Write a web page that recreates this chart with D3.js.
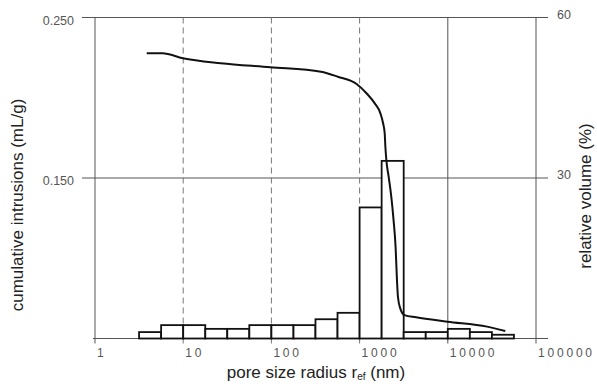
<!DOCTYPE html>
<html>
<head>
<meta charset="utf-8">
<script src="https://cdn.jsdelivr.net/npm/d3@7"></script>
<style>
  body { margin: 0; background: #fff; }
  svg text { font-family: "Liberation Sans", Arial, sans-serif; }
</style>
</head>
<body>
<div id="chart"></div>
<script>
// histogram: relative volume (%) per quarter-decade bin
var binEdges = [3.16, 5.62, 10, 17.8, 31.6, 56.2, 100, 178, 316, 562, 1000, 1778, 3162, 5623, 10000, 17783, 31623, 56234];
var relVolume = [1.2, 2.5, 2.5, 1.8, 1.8, 2.5, 2.5, 2.5, 3.6, 4.8, 24.5, 33.2, 1.2, 1.2, 1.8, 1.2, 0.7];

// cumulative intrusion curve
var poreRadius = [3.86, 5.83, 9.9, 26.7, 97, 365, 567, 925, 1198, 1486, 1721, 1846, 1925, 1960, 2010, 2135, 2288, 2427, 2558, 2653, 2720, 2890, 3229, 4370, 9920, 27900, 44850];
var cumIntrusion = [0.2277, 0.2277, 0.2246, 0.2215, 0.2190, 0.2162, 0.2131, 0.2086, 0.2028, 0.1965, 0.1903, 0.1841, 0.1779, 0.1695, 0.1612, 0.1508, 0.1383, 0.1238, 0.1072, 0.0864, 0.0760, 0.0688, 0.0646, 0.0632, 0.0605, 0.0574, 0.0547];

var xTicks = [1, 10, 100, 1000, 10000, 100000];
var dashedTicks = [10, 100, 1000];
var leftTicks = [0.250, 0.150];
var rightTicks = [60, 30];

var width = 597, height = 389;
var padL = 95, padR = 536, padT = 17.5, padB = 338.5;

var svg = d3.select("#chart").append("svg")
    .attr("width", width)
    .attr("height", height);

var x = d3.scaleLog().domain([1, 100000]).range([padL, padR]);
var yL = d3.scaleLinear().domain([0.05, 0.25]).range([padB, padT]);
var yR = d3.scaleLinear().domain([0, 60]).range([padB, padT]);

// horizontal grid lines
svg.selectAll("line.hgrid")
    .data(leftTicks).enter()
    .append("line")
    .attr("class", "hgrid")
    .attr("x1", padL - 13)
    .attr("x2", padR + 12)
    .attr("y1", function(d) { return yL(d); })
    .attr("y2", function(d) { return yL(d); })
    .attr("stroke", "#555")
    .attr("stroke-width", 1);

// vertical grid lines
svg.selectAll("line.vgrid")
    .data(xTicks).enter()
    .append("line")
    .attr("class", "vgrid")
    .attr("x1", function(d) { return x(d); })
    .attr("x2", function(d) { return x(d); })
    .attr("y1", padT)
    .attr("y2", padB + 5)
    .attr("stroke", function(d) { return dashedTicks.indexOf(d) >= 0 ? "#777" : "#555"; })
    .attr("stroke-dasharray", function(d) { return dashedTicks.indexOf(d) >= 0 ? "6,4" : null; })
    .attr("stroke-width", 1);

// bottom axis line
svg.append("line")
    .attr("x1", padL - 2)
    .attr("x2", padR + 12)
    .attr("y1", padB)
    .attr("y2", padB)
    .attr("stroke", "#555")
    .attr("stroke-width", 1.2);

// bars
svg.selectAll("rect.bar")
    .data(relVolume).enter()
    .append("rect")
    .attr("class", "bar")
    .attr("x", function(d, i) { return x(binEdges[i]); })
    .attr("width", function(d, i) { return x(binEdges[i + 1]) - x(binEdges[i]); })
    .attr("y", function(d) { return yR(d); })
    .attr("height", function(d) { return padB - yR(d); })
    .attr("fill", "#fff")
    .attr("stroke", "#111")
    .attr("stroke-width", 1.8);

// intrusion curve
var line = d3.line()
    .x(function(d) { return x(d[0]); })
    .y(function(d) { return yL(d[1]); })
    .curve(d3.curveMonotoneX);

svg.append("path")
    .datum(d3.zip(poreRadius, cumIntrusion))
    .attr("d", line)
    .attr("fill", "none")
    .attr("stroke", "#111")
    .attr("stroke-width", 2);

// tick labels
svg.selectAll("text.xtick")
    .data(xTicks).enter()
    .append("text")
    .attr("class", "xtick")
    .attr("x", function(d) { return x(d) + 2; })
    .attr("y", padB + 18)
    .attr("font-size", 12)
    .attr("letter-spacing", 2.8)
    .attr("fill", "#555")
    .text(function(d) { return d; });

svg.selectAll("text.ltick")
    .data(leftTicks).enter()
    .append("text")
    .attr("class", "ltick")
    .attr("x", padL - 21)
    .attr("y", function(d) { return yL(d) + 7; })
    .attr("text-anchor", "end")
    .attr("font-size", 12.5)
    .attr("fill", "#555")
    .text(function(d) { return d3.format(".3f")(d); });

svg.selectAll("text.rtick")
    .data(rightTicks).enter()
    .append("text")
    .attr("class", "rtick")
    .attr("x", padR + 21)
    .attr("y", function(d) { return yR(d) + 1; })
    .attr("font-size", 12.5)
    .attr("fill", "#555")
    .text(function(d) { return d; });

// axis titles
svg.append("text")
    .attr("transform", "translate(23,205) rotate(-90)")
    .attr("text-anchor", "middle")
    .attr("font-size", 17)
    .attr("fill", "#222")
    .text("cumulative intrusions (mL/g)");

svg.append("text")
    .attr("transform", "translate(591,196) rotate(-90)")
    .attr("text-anchor", "middle")
    .attr("font-size", 17)
    .attr("fill", "#222")
    .text("relative volume (%)");

var xt = svg.append("text")
    .attr("x", 316)
    .attr("y", 378)
    .attr("text-anchor", "middle")
    .attr("font-size", 17)
    .attr("fill", "#222");
xt.append("tspan").text("pore size radius r");
xt.append("tspan").attr("font-size", 10).attr("dy", 2).text("ef");
xt.append("tspan").attr("dy", -2).text(" (nm)");
</script>
</body>
</html>
